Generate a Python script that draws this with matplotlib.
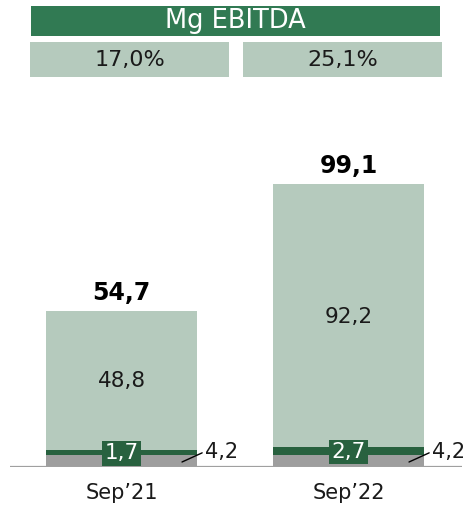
import matplotlib
matplotlib.use("Agg")
import matplotlib.pyplot as plt
from matplotlib.patches import Rectangle

categories = ["Sep’21", "Sep’22"]
gray_vals = [4.2, 4.2]
dark_vals = [1.7, 2.7]
light_vals = [48.8, 92.2]
totals = [54.7, 99.1]
margins = ["17,0%", "25,1%"]
title = "Mg EBITDA"

def fmt(v):
    return f"{v:.1f}".replace(".", ",")

plt.rcParams['font.family'] = ['DejaVu Sans']

W, H = 471, 508
fig = plt.figure(figsize=(W / 100, H / 100), dpi=100)

LIGHT = "#B5CABD"
DARK = "#28613F"
HEAD = "#317A53"
GRAY = "#9E9E9E"

# header boxes (figure pixel coords from top)
def fig_rect(x0, y0, x1, y1, color):
    fig.patches.append(Rectangle((x0 / W, 1 - y1 / H), (x1 - x0) / W, (y1 - y0) / H,
                                 transform=fig.transFigure, facecolor=color,
                                 edgecolor='none', zorder=0))

fig_rect(31, 6, 440, 36, HEAD)
fig.text((31 + 440) / 2 / W, 1 - 21 / H, title, ha='center', va='center',
         color='white', fontsize=18.5)
for (x0, x1), m in zip([(30, 229), (243, 442)], margins):
    fig_rect(x0, 42, x1, 77, LIGHT)
    fig.text((x0 + x1) / 2 / W, 1 - 60 / H, m, ha='center', va='center',
             color='#1a1a1a', fontsize=16)

# bar axes
ax_left, ax_right = 10, 462
ax_bottom = 41
ax_top_from_top = 100
ax_h = H - ax_top_from_top - ax_bottom
ax = fig.add_axes([ax_left / W, ax_bottom / H, (ax_right - ax_left) / W, ax_h / H])
px_per_unit = 2.855
spacing = 227.0
ax.set_xlim(-111.5 / spacing, 1 + 113.5 / spacing)
ax.set_ylim(0, ax_h / px_per_unit)
ax.axis('off')

x = list(range(len(categories)))
width = 151 / spacing
ax.bar(x, gray_vals, width, color=GRAY, zorder=2)
ax.bar(x, dark_vals, width, bottom=gray_vals, color=DARK, zorder=2)
bottoms2 = [g + d for g, d in zip(gray_vals, dark_vals)]
ax.bar(x, light_vals, width, bottom=bottoms2, color=LIGHT, zorder=2)

ax.axhline(0, color='#A0A0A0', lw=1.6, zorder=3)

for i in x:
    # total
    ax.text(i, totals[i] + 3.85, fmt(totals[i]), ha='center', va='baseline',
            fontsize=17, fontweight='bold', color='black')
    # light segment value
    ax.text(i, bottoms2[i] + light_vals[i] / 2 - 0.3, fmt(light_vals[i]), ha='center',
            va='center', fontsize=15.5, color='#1a1a1a')
    # dark segment label with box
    ax.text(i, gray_vals[i] + dark_vals[i] / 2 - 0.3, fmt(dark_vals[i]), ha='center',
            va='center', fontsize=15.5, color='white', zorder=5,
            bbox=dict(boxstyle='square,pad=0.1', facecolor=DARK, edgecolor='none'))
    # gray segment value with leader
    ax.annotate(fmt(gray_vals[i]), xy=(i + width / 2 - 0.066, 1.75),
                xytext=(i + width / 2 + 0.035, gray_vals[i] / 2 + 3.3),
                ha='left', va='center', fontsize=15, color='#1a1a1a', zorder=5,
                arrowprops=dict(arrowstyle='-', color='black', lw=1,
                                shrinkA=0, shrinkB=0, relpos=(0, 0.5)))
    ax.text(i, -5.5, categories[i], ha='center', va='top', fontsize=15, color='#1a1a1a')

fig.savefig("out.png", dpi=100)
